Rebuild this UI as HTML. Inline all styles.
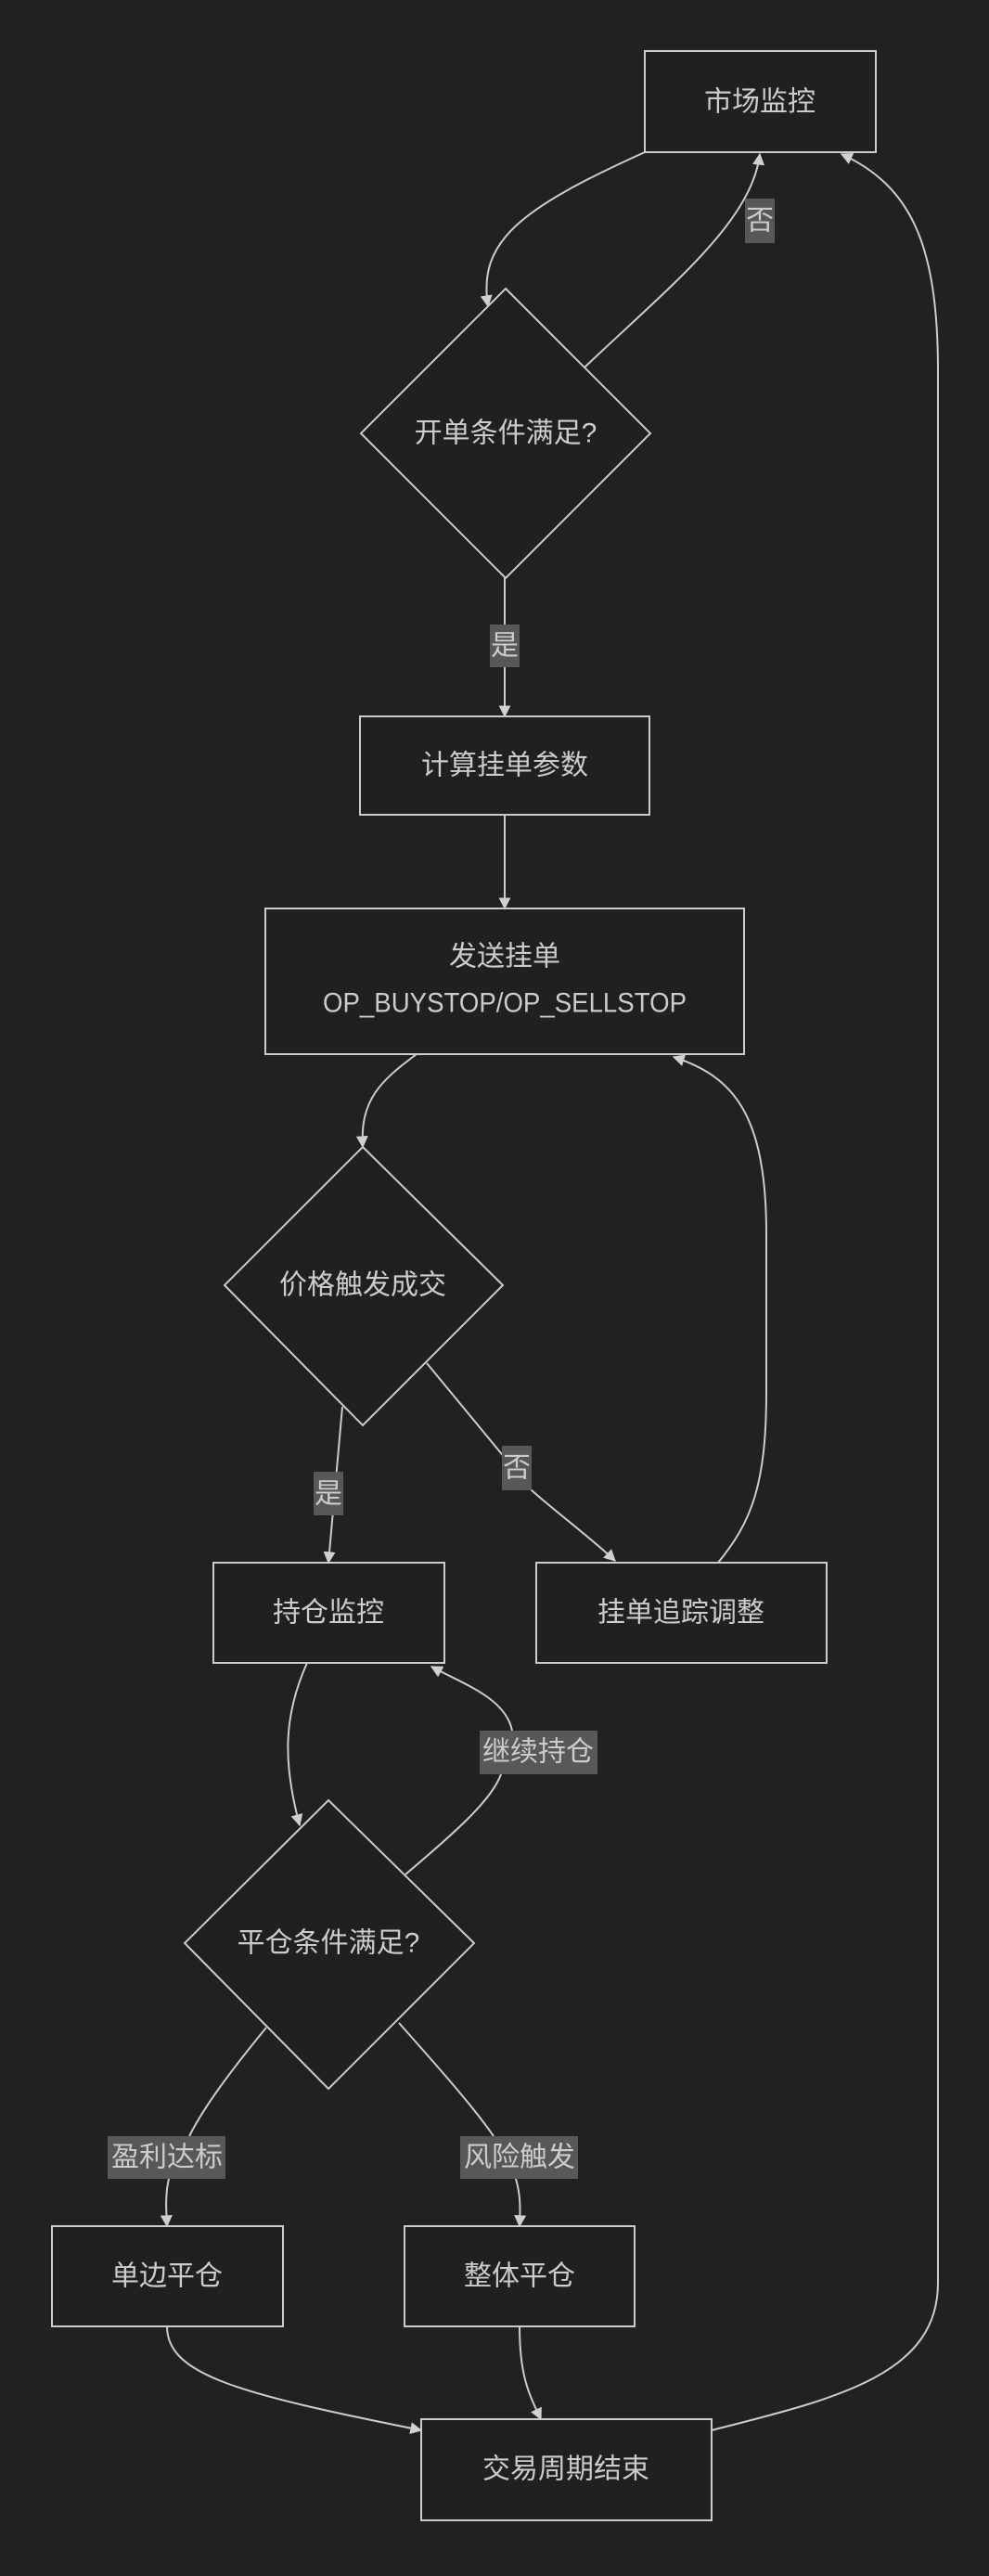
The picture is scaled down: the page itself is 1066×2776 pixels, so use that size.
<!DOCTYPE html>
<html><head><meta charset="utf-8"><style>
html,body{margin:0;padding:0;background:#212121;}
svg text{font-family:"Liberation Sans","Noto Sans CJK SC",sans-serif;font-size:30px;fill:#cccccc;text-anchor:middle;dominant-baseline:central;}
</style></head><body>
<svg width="1066" height="2771" viewBox="0 0 1066 2771" xmlns="http://www.w3.org/2000/svg">
<defs><marker id="b" viewBox="0 0 10 10" refX="9" refY="5" markerWidth="13" markerHeight="13" markerUnits="userSpaceOnUse" orient="auto"><path d="M0,0L10,5L0,10z" fill="#d0d0d0"/></marker></defs>
<rect width="1066" height="2771" fill="#212121"/>
<g fill="none" stroke="#cccccc" stroke-width="2">
<path d="M695,164 C560,225 515,260 526,330" marker-end="url(#b)"/>
<path d="M630,396 C720,310 810,240 819,166" marker-end="url(#b)"/>
<path d="M767,2619 C900,2585 1011,2560 1011,2460 L1011,400 C1011,260 980,200 907,166" marker-end="url(#b)"/>
<path d="M544,620 L544,772" marker-end="url(#b)"/>
<path d="M544,878 L544,979" marker-end="url(#b)"/>
<path d="M449,1136 C410,1165 388,1185 391,1236" marker-end="url(#b)"/>
<path d="M369,1516 L354,1684" marker-end="url(#b)"/>
<path d="M460,1469 C510,1530 560,1590 573,1606 C600,1630 640,1660 663,1682" marker-end="url(#b)"/>
<path d="M774,1684 C810,1640 826,1600 826,1500 L826,1330 C826,1200 790,1160 726,1139" marker-end="url(#b)"/>
<path d="M331,1792 C305,1850 305,1900 323,1967" marker-end="url(#b)"/>
<path d="M437,2020 C490,1975 530,1940 540,1912 M552,1865 C545,1830 500,1815 465,1796" marker-end="url(#b)"/>
<path d="M287,2185 C250,2230 220,2270 204,2302 M182,2348 C178,2365 179,2380 180,2399" marker-end="url(#b)"/>
<path d="M430,2180 C470,2225 510,2270 532,2302 M556,2348 C561,2365 561,2380 560,2399" marker-end="url(#b)"/>
<path d="M180,2507 C180,2560 260,2580 454,2619" marker-end="url(#b)"/>
<path d="M560,2507 C560,2560 570,2580 583,2607" marker-end="url(#b)"/>
</g>
<g fill="#1f2020" stroke="#cccccc" stroke-width="2">
<rect x="695" y="55" width="249" height="109"/>
<polygon points="545,311 701,467 545,623 389,467"/>
<rect x="388" y="772" width="312" height="106"/>
<rect x="286" y="979" width="516" height="157"/>
<polygon points="391,1236 542,1385 391,1536 242,1385"/>
<rect x="230" y="1684" width="249" height="108"/>
<rect x="578" y="1684" width="313" height="108"/>
<polygon points="354,1940 511,2094 354,2251 199,2094"/>
<rect x="56" y="2399" width="249" height="108"/>
<rect x="436" y="2399" width="248" height="108"/>
<rect x="454" y="2607" width="313" height="109"/>
</g>
<g fill="#585858">
<rect x="803" y="214" width="32" height="48"/>
<rect x="528" y="673" width="32" height="46"/>
<rect x="338" y="1586" width="32" height="47"/>
<rect x="541" y="1558" width="32" height="48"/>
<rect x="517" y="1865" width="127" height="47"/>
<rect x="116" y="2302" width="127" height="46"/>
<rect x="496" y="2302" width="127" height="46"/>
</g>
<text x="819" y="110">市场监控</text>
<text x="545" y="467">开单条件满足?</text>
<text x="544" y="825">计算挂单参数</text>
<text x="544" y="1031">发送挂单</text>
<text x="544" y="1081" textLength="392" lengthAdjust="spacingAndGlyphs">OP_BUYSTOP/OP_SELLSTOP</text>
<text x="391" y="1385">价格触发成交</text>
<text x="354" y="1738">持仓监控</text>
<text x="734" y="1738">挂单追踪调整</text>
<text x="354" y="2094">平仓条件满足?</text>
<text x="180" y="2453">单边平仓</text>
<text x="560" y="2453">整体平仓</text>
<text x="610" y="2661">交易周期结束</text>
<text x="819" y="238">否</text>
<text x="544" y="696">是</text>
<text x="354" y="1610">是</text>
<text x="557" y="1582">否</text>
<text x="580" y="1888">继续持仓</text>
<text x="180" y="2325">盈利达标</text>
<text x="560" y="2325">风险触发</text>
</svg>
</body></html>
